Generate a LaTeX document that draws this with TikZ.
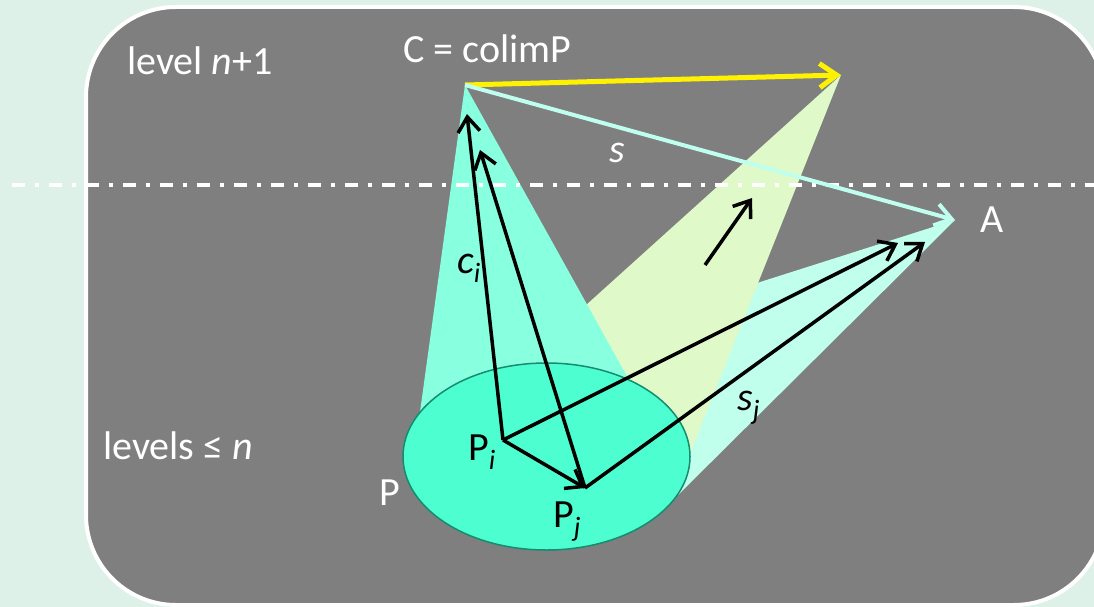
\documentclass[tikz,border=0pt]{standalone}
\usepackage{fontspec}
\setmainfont{Carlito}
\usetikzlibrary{arrows.meta,shapes.geometric}
\definecolor{mint}{RGB}{222,241,233}
\definecolor{boxgray}{RGB}{127,127,127}
\definecolor{conecyan}{RGB}{136,255,222}
\definecolor{coneyellow}{RGB}{223,250,200}
\definecolor{conelight}{RGB}{191,255,236}
\definecolor{setfill}{RGB}{77,255,208}
\definecolor{setedge}{RGB}{20,140,110}
\definecolor{sline}{RGB}{191,255,240}
\newcommand{\mysub}[1]{\raisebox{-9pt}{\fontsize{28}{30}\selectfont\itshape #1}}
\begin{document}
\begin{tikzpicture}[x=1pt,y=-1pt,
  lbl/.style={inner sep=0pt, font=\fontsize{40}{48}\selectfont},
  wlbl/.style={lbl, text=white},
  blkarrow/.style={draw=black, line width=3.5pt, -{Straight Barb[length=15pt,width=22pt]}},
  yelarrow/.style={draw=yellow, line width=5pt, -{Straight Barb[length=17pt,width=24pt]}},
  cyanarrow/.style={draw=sline, line width=4pt, -{Straight Barb[length=16pt,width=22pt]}},
  levelline/.style={draw=white, line width=3.5pt, dash pattern=on 13pt off 10pt on 4pt off 10pt}]
\useasboundingbox (0,0) rectangle (1094,607);
\fill[mint] (0,0) rectangle (1094,607);
\draw[white, line width=4pt, fill=boxgray, rounded corners=90pt] (86,7) rectangle (1104,605);

% coordinates
\coordinate (C) at (465,85);
\coordinate (Y) at (841,75);
\coordinate (A) at (955,220);
\coordinate (Pi) at (503,440);
\coordinate (Pj) at (585,488);
\coordinate (ciT) at (467,114);
\coordinate (cjT) at (480,150);
\coordinate (aiT) at (898,243);
\coordinate (ajT) at (925,242);
\coordinate (m1) at (705,265);
\coordinate (m2) at (752,198);
\coordinate (L1) at (12,185);
\coordinate (L2) at (1094,185);

% cones
\fill[conelight] (A) -- (678,495) -- (546,456) -- (600,333) -- cycle;
\fill[coneyellow] (Y) -- (503,380) -- (546,456) -- (689,456) -- cycle;
\fill[conecyan] (C) -- (420,412) -- (546,456) -- (629,380) -- cycle;

% the set P
\node[ellipse, draw=setedge, line width=1.5pt, fill=setfill, minimum width=287pt, minimum height=187pt, inner sep=0pt] (Pset) at (546.5,456.5) {};

% level separator
\draw[levelline] (L1) -- (L2);

% arrows
\draw[yelarrow] (C) -- (Y);
\draw[cyanarrow] (C) -- (A);
\draw[blkarrow] (Pi) -- (ciT);
\draw[blkarrow] (Pj) -- (cjT);
\draw[blkarrow] (Pi) -- (Pj);
\draw[blkarrow] (Pi) -- (aiT);
\draw[blkarrow] (Pj) -- (ajT);
\draw[blkarrow] (m1) -- (m2);

% labels
\node[wlbl, anchor=base west] (tlevel) at (127,75) {level \textit{n}+1};
\node[wlbl, anchor=base west] (tcolim) at (403,63) {C = colimP};
\node[wlbl, anchor=base west] (ts) at (609,162) {\textit{s}};
\node[wlbl, anchor=base west] (tA) at (980,232) {A};
\node[lbl, anchor=base west] (tci) at (457,273) {\textit{c}\mysub{i}};
\node[lbl, anchor=base west] (tPi) at (468,460) {P\mysub{i}};
\node[lbl, anchor=base west] (tPj) at (553,527) {P\mysub{j}};
\node[wlbl, anchor=base west] (tP) at (379,505) {P};
\node[wlbl, anchor=base west] (tlevels) at (103,459) {levels ≤ \textit{n}};
\node[lbl, anchor=base west] (tsj) at (737,410) {\textit{s}\mysub{j}};
\end{tikzpicture}
\end{document}
